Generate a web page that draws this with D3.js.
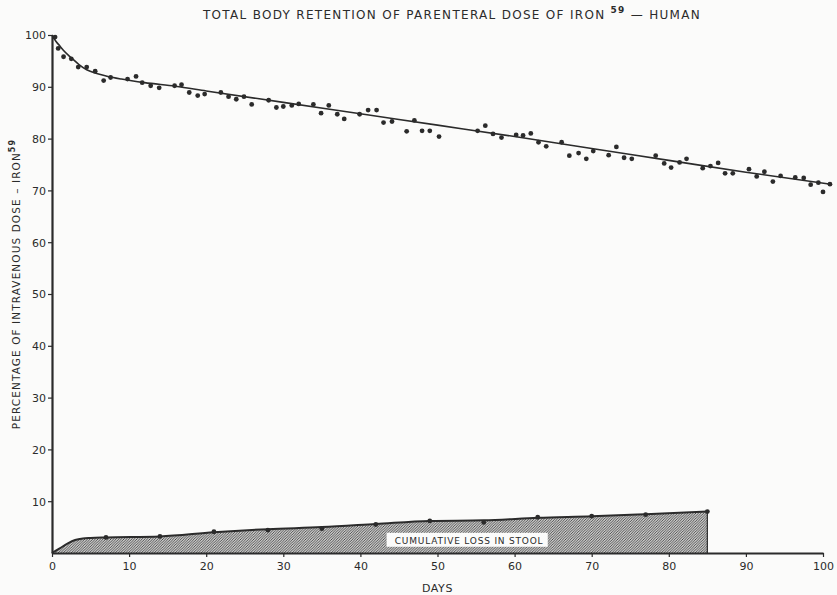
<!DOCTYPE html>
<meta charset="utf-8">
<style>
body { margin: 0; background: #fbfbfa; }
text {
  font-family: "DejaVu Sans", sans-serif;
  fill: #2b2b2b;
}
.axis path, .axis line {
  stroke: #2b2b2b;
}
.axis text {
  font-size: 11px;
  fill: #2b2b2b;
}
</style>
<svg width="837" height="595"></svg>
<script src="https://d3js.org/d3.v7.min.js"></script>
<script>
// retention points, [day, percent]
var retentionDays = [0.4,0.8,1.5,2.5,3.4,4.5,5.6,6.7,7.6,9.8,10.9,11.7,12.8,13.9,15.9,16.8,17.8,18.9,19.8,21.9,22.9,23.9,24.9,25.9,28.1,29.1,30.0,31.1,32.0,33.9,34.9,35.9,37.0,37.9,39.9,41.0,42.1,43.0,44.1,46.0,47.0,48.0,49.0,50.2,55.2,56.2,57.2,58.3,60.2,61.1,62.1,63.1,64.1,66.1,67.1,68.3,69.3,70.2,72.2,73.2,74.2,75.2,78.3,79.4,80.3,81.4,82.3,84.4,85.4,86.4,87.3,88.3,90.4,91.4,92.4,93.5,94.5,96.4,97.5,98.4,99.4,100.0,100.9];
var retentionValues = [99.6,97.4,95.8,95.4,93.8,93.8,93.0,91.2,91.8,91.5,92.0,90.8,90.2,89.8,90.2,90.4,88.9,88.3,88.6,88.9,88.1,87.6,88.1,86.6,87.4,86.0,86.2,86.4,86.7,86.6,84.9,86.4,84.7,83.8,84.7,85.5,85.5,83.1,83.3,81.4,83.5,81.5,81.5,80.4,81.5,82.5,80.9,80.2,80.7,80.6,81.0,79.3,78.5,79.3,76.7,77.2,76.1,77.6,76.8,78.4,76.3,76.1,76.7,75.2,74.4,75.4,76.1,74.3,74.7,75.3,73.3,73.3,74.1,72.7,73.6,71.7,72.8,72.5,72.4,71.1,71.5,69.7,71.2];

// hand-drawn fit through retention points
var fitDays = [0,0.5,1,1.5,2.5,3.5,4.5,5.5,7,9,12,16,20,30,40,50,60,70,80,90,101];
var fitValues = [100,98.8,97.9,97.0,95.6,94.3,93.3,92.7,92.1,91.5,90.8,90.1,89.2,87.0,84.8,82.6,80.4,78.1,75.8,73.5,71.2];

// cumulative loss in stool
var stoolDays = [7,14,21,28,35,42,49,56,63,70,77,85];
var stoolValues = [3.0,3.2,4.1,4.4,4.7,5.5,6.2,5.9,6.9,7.1,7.4,8.0];
var stoolLineDays = [0,1,2,3,4,5,7,14,21,28,35,42,49,56,63,70,77,85];
var stoolLineValues = [0,0.9,1.8,2.5,2.8,2.9,3.0,3.2,4.0,4.6,5.0,5.6,6.2,6.3,6.8,7.1,7.5,8.0];

var xTicks = [0,10,20,30,40,50,60,70,80,90,100];
var yTicks = [10,20,30,40,50,60,70,80,90,100];

var ink = "#2b2b2b";

var svg = d3.select("svg");

var x = d3.scaleLinear().domain([0, 100]).range([52, 823]);
var y = d3.scaleLinear().domain([0, 100]).range([553, 35]);

var defs = svg.append("defs");
defs.append("pattern")
    .attr("id", "hatch")
    .attr("patternUnits", "userSpaceOnUse")
    .attr("width", 2.6)
    .attr("height", 2.6)
  .append("path")
    .attr("d", "M-1,1 l2,-2 M0,2.6 l2.6,-2.6 M1.6,3.6 l2,-2")
    .attr("stroke", "#3a3a3a")
    .attr("stroke-width", 0.9);

var stool = stoolLineDays.map(function(d, i) { return [d, stoolLineValues[i]]; });
var fit = fitDays.map(function(d, i) { return [d, fitValues[i]]; });

// shaded stool area
svg.append("path")
    .datum(stool)
    .attr("fill", "url(#hatch)")
    .attr("stroke", "none")
    .attr("d", d3.area()
        .x(function(d) { return x(d[0]); })
        .y0(y(0))
        .y1(function(d) { return y(d[1]); })
        .curve(d3.curveMonotoneX));

svg.append("path")
    .datum(stool)
    .attr("fill", "none")
    .attr("stroke", ink)
    .attr("stroke-width", 2)
    .attr("d", d3.line()
        .x(function(d) { return x(d[0]); })
        .y(function(d) { return y(d[1]); })
        .curve(d3.curveMonotoneX));

svg.append("line")
    .attr("x1", x(85)).attr("x2", x(85))
    .attr("y1", y(0)).attr("y2", y(8))
    .attr("stroke", ink)
    .attr("stroke-width", 1.2);

svg.selectAll("circle.stool")
    .data(stoolDays)
    .enter()
    .append("circle")
    .attr("class", "stool")
    .attr("cx", function(d) { return x(d); })
    .attr("cy", function(d, i) { return y(stoolValues[i]); })
    .attr("r", 2.4)
    .attr("fill", ink);

// retention fit line
svg.append("path")
    .datum(fit)
    .attr("fill", "none")
    .attr("stroke", ink)
    .attr("stroke-width", 1.6)
    .attr("d", d3.line()
        .x(function(d) { return x(d[0]); })
        .y(function(d) { return y(d[1]); })
        .curve(d3.curveMonotoneX));

svg.selectAll("circle.ret")
    .data(retentionDays)
    .enter()
    .append("circle")
    .attr("class", "ret")
    .attr("cx", function(d) { return x(d); })
    .attr("cy", function(d, i) { return y(retentionValues[i]); })
    .attr("r", 2.4)
    .attr("fill", ink);

// axes
var xAxis = svg.append("g")
    .attr("class", "axis")
    .attr("transform", "translate(0," + y(0) + ")")
    .call(d3.axisBottom(x).tickValues(xTicks).tickSize(4).tickSizeOuter(0).tickPadding(5));

var yAxis = svg.append("g")
    .attr("class", "axis")
    .attr("transform", "translate(" + x(0) + ",0)")
    .call(d3.axisLeft(y).tickValues(yTicks).tickSize(4).tickSizeOuter(0).tickPadding(2));

svg.selectAll(".axis .domain").attr("stroke-width", 2.2);
svg.selectAll(".axis .tick line").attr("stroke-width", 1.2);
xAxis.selectAll("text").attr("font-family", "DejaVu Sans");
yAxis.selectAll("text").attr("font-family", "DejaVu Sans").attr("dy", "0.36em");

// stool label
var lab = svg.append("g");
lab.append("rect")
    .attr("x", x(43.4))
    .attr("y", y(3.9))
    .attr("width", x(64.3) - x(43.4))
    .attr("height", y(1.2) - y(3.9))
    .attr("fill", "#fbfbfa");
lab.append("text")
    .attr("x", x(54.1))
    .attr("y", y(1.8))
    .attr("text-anchor", "middle")
    .attr("font-size", 9)
    .attr("letter-spacing", 0.8)
    .text("CUMULATIVE LOSS IN STOOL");

// title
var title = svg.append("text")
    .attr("x", 452)
    .attr("y", 19)
    .attr("text-anchor", "middle")
    .attr("font-size", 12)
    .attr("letter-spacing", 1.3);
title.append("tspan").text("TOTAL BODY RETENTION OF PARENTERAL DOSE OF IRON ");
title.append("tspan").attr("dy", -6).attr("font-size", 9).attr("font-weight", "bold").text("59");
title.append("tspan").attr("dy", 6).text(" \u2014 HUMAN");

// axis titles
svg.append("text")
    .attr("x", x(50))
    .attr("y", 592)
    .attr("text-anchor", "middle")
    .attr("font-size", 11)
    .attr("letter-spacing", 0.6)
    .text("DAYS");

var yl = svg.append("text")
    .attr("transform", "translate(20,284) rotate(-90)")
    .attr("text-anchor", "middle")
    .attr("font-size", 10.5)
    .attr("letter-spacing", 1.1);
yl.append("tspan").text("PERCENTAGE OF INTRAVENOUS DOSE \u2013 IRON");
yl.append("tspan").attr("dy", -5).attr("font-size", 8).attr("font-weight", "bold").text("59");
</script>
